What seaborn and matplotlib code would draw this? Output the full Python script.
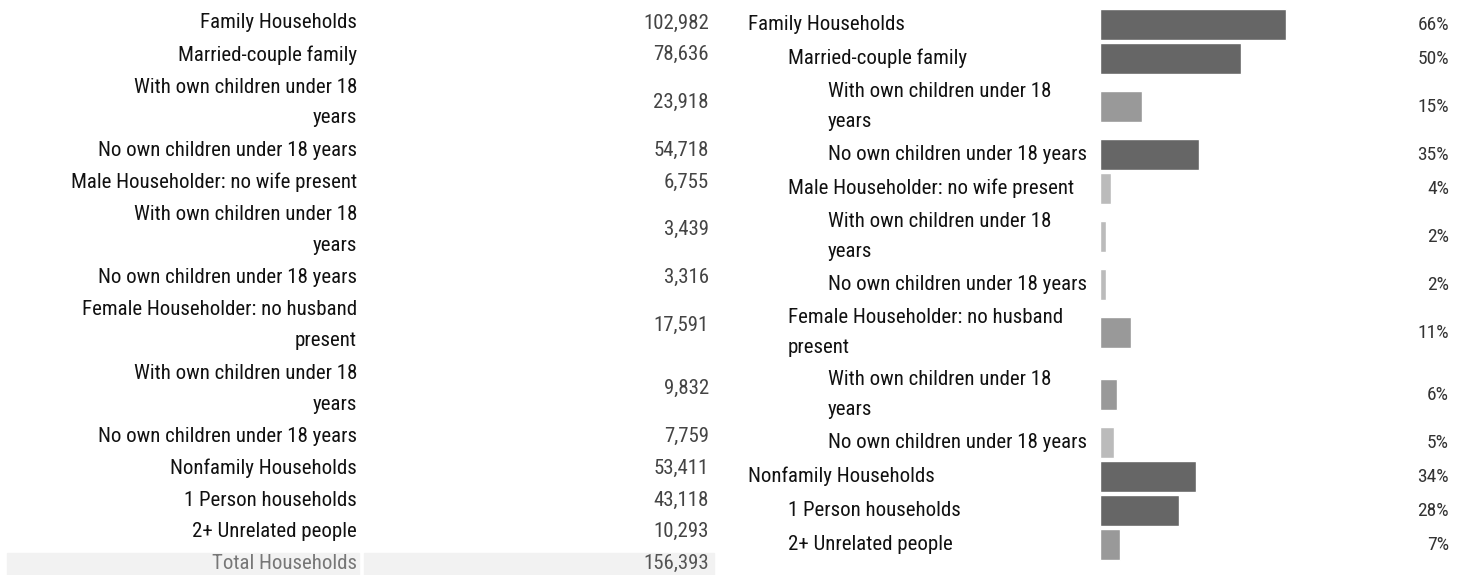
import matplotlib
matplotlib.use("Agg")
import matplotlib.pyplot as plt
import seaborn as sns
import pandas as pd
from matplotlib import font_manager
from matplotlib.patches import Rectangle

# ---------------- data ----------------
labels = [
    "Family Households",
    "Married-couple family",
    "With own children under 18\nyears",
    "No own children under 18 years",
    "Male Householder: no wife present",
    "With own children under 18\nyears",
    "No own children under 18 years",
    "Female Householder: no husband\npresent",
    "With own children under 18\nyears",
    "No own children under 18 years",
    "Nonfamily Households",
    "1 Person households",
    "2+ Unrelated people",
]
levels = [0, 1, 2, 2, 1, 2, 2, 1, 2, 2, 0, 1, 1]
counts = [102982, 78636, 23918, 54718, 6755, 3439, 3316, 17591, 9832, 7759, 53411, 43118, 10293]
pcts = [66, 50, 15, 35, 4, 2, 2, 11, 6, 5, 34, 28, 7]
total_label = "Total Households"
total_count = 156393

# ---------------- style ----------------
sns.set_theme(style="white")
avail = {f.name for f in font_manager.fontManager.ttflist}
FONT = "DejaVu Sans"
for cand in ["Liberation Sans Narrow", "Roboto Condensed", "Open Sans Condensed", "DejaVu Sans"]:
    if cand in avail:
        FONT = cand
        break
plt.rcParams["font.family"] = [FONT, "DejaVu Sans"]

W, H = 1467, 575
fig = plt.figure(figsize=(W / 100, H / 100), dpi=100)
fig.patch.set_facecolor("white")

LABEL_PT = 15
PCT_PT = 14
line_px = 31.8
linesp = 1.78

# overlay axes in pixel units for the table text
ax0 = fig.add_axes([0, 0, 1, 1])
ax0.set_xlim(0, W)
ax0.set_ylim(H, 0)
ax0.axis("off")

nlines = [lab.count("\n") + 1 for lab in labels]

# left table (uniform line pitch)
y = 23.0
for lab, n, c in zip(labels, nlines, counts):
    yc = y + (n - 1) * line_px / 2
    ax0.text(357, yc, lab, ha="right", va="center", multialignment="right",
             fontsize=LABEL_PT, color="#111111", linespacing=linesp)
    ax0.text(709, yc, f"{c:,}", ha="right", va="center",
             fontsize=LABEL_PT, color="#444444")
    y += n * line_px

# total row
ax0.add_patch(Rectangle((7, 553), 352, 30, color="#f2f2f2", zorder=0))
ax0.add_patch(Rectangle((364, 553), 350, 30, color="#f2f2f2", zorder=0))
ax0.text(357, y, total_label, ha="right", va="center", fontsize=LABEL_PT, color="#777777")
ax0.text(709, y, f"{total_count:,}", ha="right", va="center", fontsize=LABEL_PT, color="#555555")

# right side rows: single 34px, double 62px
row_h = [34 if n == 1 else 62 for n in nlines]
centers = []
top = 7.5
for h in row_h:
    centers.append(top + h / 2)
    top += h

for lab, lev, yc, p in zip(labels, levels, centers, pcts):
    ax0.text(748 + 40 * lev, yc, lab, ha="left", va="center",
             fontsize=LABEL_PT, color="#111111", linespacing=linesp)
    ax0.text(1449, yc, f"{p}%", ha="right", va="center",
             fontsize=PCT_PT, color="#333333")

def shade(p):
    if p >= 20:
        return "dark"
    if p >= 6:
        return "mid"
    return "light"

df = pd.DataFrame({"pct": pcts, "yc": centers, "shade": [shade(p) for p in pcts]})

axb = fig.add_axes([1100 / W, 0, 282 / W, 1])
sns.barplot(data=df, x="pct", y="yc", hue="shade", orient="h", native_scale=True,
            dodge=False, legend=False, width=31 / 34, saturation=1,
            palette={"dark": "#666666", "mid": "#999999", "light": "#bbbbbb"},
            ax=axb, errorbar=None)
axb.set_xlim(0, 100)
axb.set_ylim(H, 0)
axb.axis("off")

fig.savefig("out.png", dpi=100)
